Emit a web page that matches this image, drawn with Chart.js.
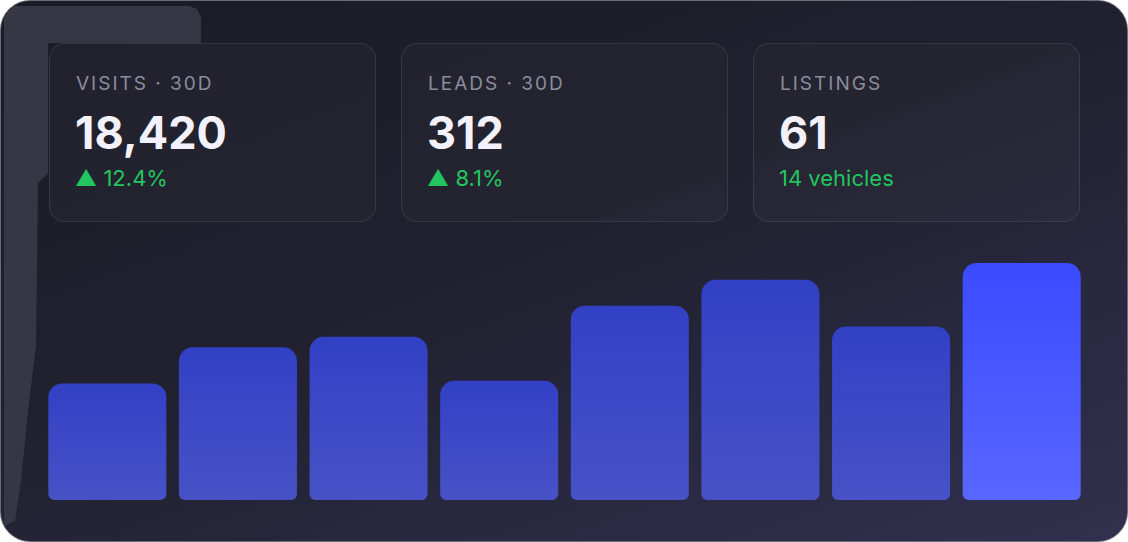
<!DOCTYPE html>
<html>
<head>
<meta charset="utf-8">
<script src="https://cdn.jsdelivr.net/npm/chart.js@4"></script>
<style>
    html, body { margin: 0; padding: 0; background: #ffffff; }
    body { width: 1128px; height: 542px; overflow: hidden; font-family: Inter, Roboto, sans-serif; }
    .panel {
        position: absolute; left: 0; top: 0; width: 1126px; height: 540px;
        border: 1px solid #6b6b78; border-radius: 30px; overflow: hidden;
        background: linear-gradient(160deg, #1c1c28 0%, #20202e 45%, #2a2a44 80%, #31314f 100%);
    }
    /* the lighter ghost layer peeking out on the top-left edge */
    .ghost {
        position: absolute; left: 0; top: 0; width: 210px; height: 540px;
        background: #363644;
        clip-path: polygon(3px 5px, 188px 5px, 196px 8px, 200px 16px, 200px 42px, 47px 42px, 47px 172px, 37px 182px, 35px 345px, 27px 410px, 20px 480px, 14px 520px, 3px 525px);
    }
    .stat {
        position: absolute; top: 42px; width: 325px; height: 177px;
        border: 1px solid rgba(255,255,255,0.09); border-radius: 16px;
        background: rgba(255,255,255,0.025);
    }
    .stat .lbl {
        position: absolute; left: 26px; top: 28px;
        font-size: 19px; letter-spacing: 2px; color: #8c8c9c;
    }
    .stat .val {
        position: absolute; left: 25px; top: 61px;
        font-size: 45px; font-weight: 700; color: #f3f1fb;
    }
    .stat .sub {
        position: absolute; left: 25px; top: 121px;
        font-size: 22px; color: #22c55e;
    }
    .chart-box { position: absolute; left: 41px; top: 240px; width: 1045px; height: 259px; }
</style>
</head>
<body>
<div class="panel">
    <div class="ghost"></div>
    <div id="stats"></div>
    <div class="chart-box"><canvas id="bars"></canvas></div>
</div>
<script>
// stat cards
var statLabels = ['VISITS · 30D', 'LEADS · 30D', 'LISTINGS'];
var statValues = ['18,420', '312', '61'];
var statNotes = ['▲ 12.4%', '▲ 8.1%', '14 vehicles'];

// bar chart
var days = ['1', '2', '3', '4', '5', '6', '7', '8'];
var visits = [45, 59, 63, 46, 75, 85, 67, 91.5];

var statLefts = [48, 400, 752];
var statsDiv = document.getElementById('stats');
statLabels.forEach(function(label, i) {
    var card = document.createElement('div');
    card.className = 'stat';
    card.style.left = statLefts[i] + 'px';
    card.innerHTML = '<div class="lbl"></div><div class="val"></div><div class="sub"></div>';
    card.querySelector('.lbl').textContent = label;
    card.querySelector('.val').textContent = statValues[i];
    card.querySelector('.sub').textContent = statNotes[i];
    statsDiv.appendChild(card);
});

//Gradient per bar, brighter on the last one
function barFill(context) {
    var chart = context.chart;
    if (!chart.chartArea || context.parsed === undefined) return '#3a46c6';
    var y = chart.scales.y;
    var top = y.getPixelForValue(context.parsed.y);
    var bottom = y.getPixelForValue(0);
    var g = chart.ctx.createLinearGradient(0, top, 0, bottom);
    if (context.dataIndex === visits.length - 1) {
        g.addColorStop(0, '#3a4bff');
        g.addColorStop(1, '#5966ff');
    } else {
        g.addColorStop(0, '#3240c5');
        g.addColorStop(1, '#4852c6');
    }
    return g;
}

new Chart(document.getElementById('bars'), {
    type: 'bar',
    data: {
        labels: days,
        datasets: [{
            data: visits,
            backgroundColor: barFill,
            borderWidth: 0,
            borderSkipped: false,
            borderRadius: { topLeft: 14, topRight: 14, bottomLeft: 6, bottomRight: 6 },
            categoryPercentage: 1,
            barPercentage: 0.9035
        }]
    },
    options: {
        responsive: true,
        maintainAspectRatio: false,
        animation: false,
        layout: { padding: 0 },
        plugins: { legend: { display: false }, tooltip: { enabled: false } },
        scales: {
            x: { display: false },
            y: { display: false, min: 0, max: 100 }
        }
    }
});
</script>
</body>
</html>
